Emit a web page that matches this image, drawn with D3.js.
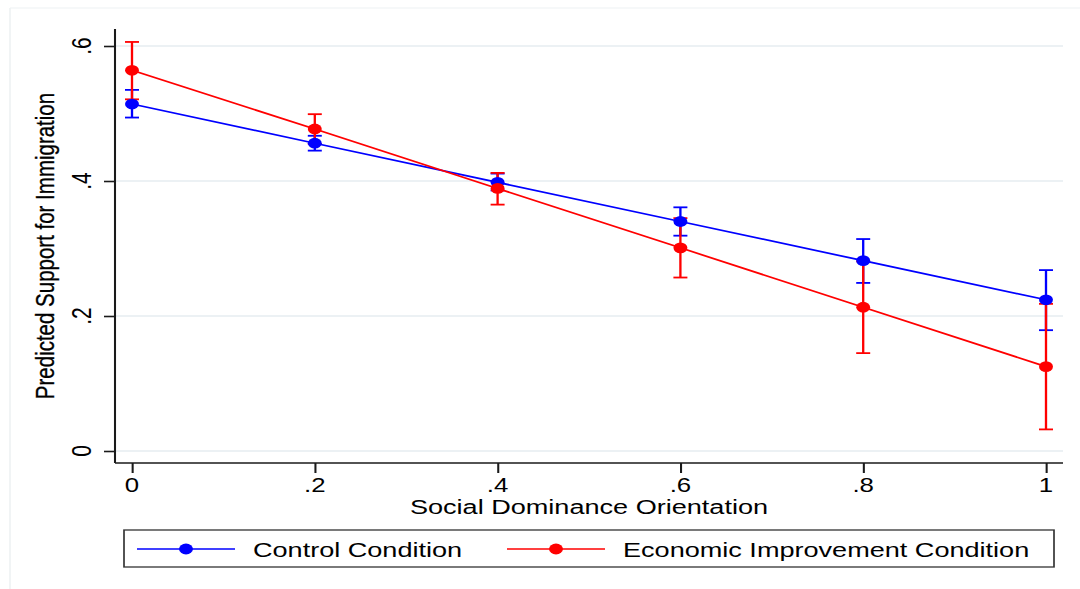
<!DOCTYPE html>
<html>
<head>
<meta charset="utf-8">
<script src="https://cdn.jsdelivr.net/npm/d3@7"></script>
<style>
  html, body { margin: 0; padding: 0; background: #fff; }
  svg { display: block; }
  text { font-family: "Liberation Sans", Arial, sans-serif; fill: #000; }
</style>
</head>
<body>
<div id="chart"></div>
<script>
'use strict';

// Values (margins with 95% CI)
var sdo = [0, 0.2, 0.4, 0.6, 0.8, 1];
var controlMean = [0.514, 0.456, 0.398, 0.340, 0.282, 0.224];
var controlLo   = [0.494, 0.445, 0.386, 0.319, 0.249, 0.179];
var controlHi   = [0.535, 0.467, 0.411, 0.361, 0.314, 0.268];
var econMean = [0.564, 0.477, 0.389, 0.301, 0.213, 0.125];
var econLo   = [0.521, 0.455, 0.365, 0.257, 0.145, 0.032];
var econHi   = [0.606, 0.499, 0.412, 0.345, 0.281, 0.218];

var xTicks = [0, 0.2, 0.4, 0.6, 0.8, 1];
var xTickLabels = ['0', '.2', '.4', '.6', '.8', '1'];
var yTicks = [0, 0.2, 0.4, 0.6];
var yTickLabels = ['0', '.2', '.4', '.6'];
var seriesNames = ['Control Condition', 'Economic Improvement Condition'];
var seriesColors = ['#0000ff', '#ff0000'];

var width = 1080;
var height = 589;
// the original graph is stretched sideways, so draw in narrower units and stretch
var SX = 1.29;
var u = function (px) { return px / SX; };
var W = width / SX;

var svg = d3.select('#chart')
  .append('svg')
  .attr('width', width)
  .attr('height', height)
  .attr('viewBox', '0 0 ' + W + ' ' + height)
  .attr('preserveAspectRatio', 'none');

// outer graph region edge (cropped on the right/bottom)
svg.append('line')
  .attr('x1', u(10)).attr('x2', u(10)).attr('y1', 8).attr('y2', height)
  .style('stroke', '#edf1f3').style('stroke-width', 1.2);
svg.append('line')
  .attr('x1', u(10)).attr('x2', W).attr('y1', 8).attr('y2', 8)
  .style('stroke', '#edf1f3').style('stroke-width', 1.2);

var plotLeft = u(115), plotRight = u(1063), plotTop = 29, plotBottom = 463;

var x = d3.scaleLinear().domain([0, 1]).range([u(132), u(1046)]);
var y = d3.scaleLinear().domain([0, 0.6]).range([451, 46]);

// gridlines
svg.selectAll('line.grid')
  .data(yTicks)
  .enter()
  .append('line')
  .attr('class', 'grid')
  .attr('x1', plotLeft).attr('x2', plotRight)
  .attr('y1', function (d) { return y(d); })
  .attr('y2', function (d) { return y(d); })
  .style('stroke', '#e6edf0')
  .style('stroke-width', 1.6);

// y axis
var yAxis = svg.append('g')
  .attr('transform', 'translate(' + plotLeft + ',0)')
  .call(d3.axisLeft(y).tickValues(yTicks).tickSize(u(11)).tickFormat(''));
yAxis.select('.domain').attr('d', 'M0,' + plotTop + 'V' + plotBottom);

// x axis
var xAxis = svg.append('g')
  .attr('transform', 'translate(0,' + plotBottom + ')')
  .call(d3.axisBottom(x).tickValues(xTicks).tickSize(10).tickFormat(''));
xAxis.select('.domain').attr('d', 'M' + plotLeft + ',0H' + plotRight);

svg.selectAll('.domain, .tick line')
  .style('stroke', '#1a1a1a')
  .style('stroke-width', 1.6);

// tick labels
svg.selectAll('text.ylab')
  .data(yTicks)
  .enter()
  .append('text')
  .attr('class', 'ylab')
  .attr('transform', function (d) { return 'translate(' + u(91) + ',' + y(d) + ') rotate(-90)'; })
  .attr('text-anchor', 'middle')
  .style('font-size', '21px')
  .text(function (d, i) { return yTickLabels[i]; });

svg.selectAll('text.xlab')
  .data(xTicks)
  .enter()
  .append('text')
  .attr('class', 'xlab')
  .attr('x', function (d) { return x(d); })
  .attr('y', 492)
  .attr('text-anchor', 'middle')
  .style('font-size', '20px')
  .text(function (d, i) { return xTickLabels[i]; });

// axis titles
svg.append('text')
  .attr('x', (plotLeft + plotRight) / 2)
  .attr('y', 514)
  .attr('text-anchor', 'middle')
  .style('font-size', '21px')
  .text('Social Dominance Orientation');

svg.append('text')
  .attr('transform', 'translate(' + u(54) + ',' + ((plotTop + plotBottom) / 2) + ') rotate(-90)')
  .attr('text-anchor', 'middle')
  .style('font-size', '20.5px')
  .style('stroke', '#000')
  .style('stroke-width', 0.25)
  .text('Predicted Support for Immigration');

var series = [
  { mean: controlMean, lo: controlLo, hi: controlHi },
  { mean: econMean, lo: econLo, hi: econHi }
];

var capHalf = u(7);

// confidence intervals first
series.forEach(function (s, k) {
  var g = svg.append('g').style('stroke', seriesColors[k]).style('stroke-width', 1.8);
  g.selectAll('line.bar')
    .data(sdo)
    .enter()
    .append('line')
    .attr('x1', function (d) { return x(d); })
    .attr('x2', function (d) { return x(d); })
    .attr('y1', function (d, i) { return y(s.lo[i]); })
    .attr('y2', function (d, i) { return y(s.hi[i]); });
  ['lo', 'hi'].forEach(function (key) {
    g.selectAll('line.cap-' + key)
      .data(sdo)
      .enter()
      .append('line')
      .attr('x1', function (d) { return x(d) - capHalf; })
      .attr('x2', function (d) { return x(d) + capHalf; })
      .attr('y1', function (d, i) { return y(s[key][i]); })
      .attr('y2', function (d, i) { return y(s[key][i]); });
  });
});

// connected lines and markers
var line = d3.line()
  .x(function (d) { return x(d[0]); })
  .y(function (d) { return y(d[1]); });

series.forEach(function (s, k) {
  svg.append('path')
    .datum(sdo.map(function (d, i) { return [d, s.mean[i]]; }))
    .attr('d', line)
    .style('fill', 'none')
    .style('stroke', seriesColors[k])
    .style('stroke-width', 1.7);
});

series.forEach(function (s, k) {
  svg.selectAll('circle.s' + k)
    .data(sdo)
    .enter()
    .append('circle')
    .attr('class', 's' + k)
    .attr('cx', function (d) { return x(d); })
    .attr('cy', function (d, i) { return y(s.mean[i]); })
    .attr('r', 5.4)
    .style('fill', seriesColors[k]);
});

// legend
var legend = svg.append('g');
legend.append('rect')
  .attr('x', u(124)).attr('y', 530)
  .attr('width', u(1054) - u(124)).attr('height', 37)
  .style('fill', '#fff')
  .style('stroke', '#333')
  .style('stroke-width', 1.3);

var legendX = [u(137), u(507)];
seriesNames.forEach(function (name, k) {
  var lx = legendX[k];
  legend.append('line')
    .attr('x1', lx).attr('x2', lx + u(98))
    .attr('y1', 549).attr('y2', 549)
    .style('stroke', seriesColors[k])
    .style('stroke-width', 1.7);
  legend.append('circle')
    .attr('cx', lx + u(49)).attr('cy', 549).attr('r', 5.4)
    .style('fill', seriesColors[k]);
  legend.append('text')
    .attr('x', lx + u(116)).attr('y', 557)
    .style('font-size', '21px')
    .text(name);
});
</script>
</body>
</html>
